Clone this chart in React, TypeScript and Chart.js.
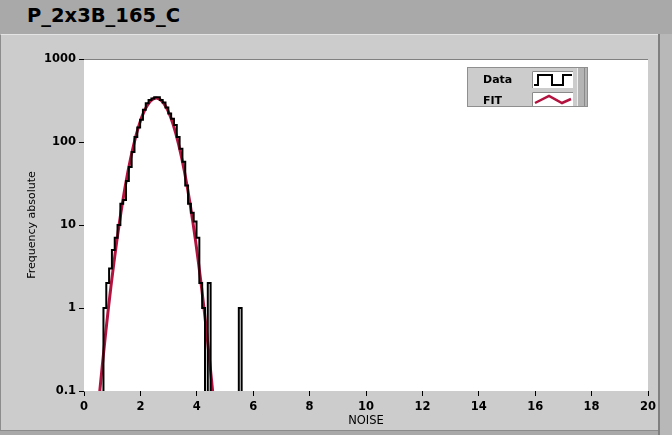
import React, { useEffect, useRef } from 'react';
import { Chart, registerables } from 'chart.js';

Chart.register(...registerables);

const chartTitle = 'P_2x3B_165_C';
const xAxisTitle = 'NOISE';
const yAxisTitle = 'Frequency absolute';
const legendLabels = ['Data', 'FIT'];

const xMin = 0;
const xMax = 20;
const xStep = 2;
const yTickValues = [0.1, 1, 10, 100, 1000];
const yTickLabels = ['0.1', '1', '10', '100', '1000'];

// histogram: left edge of each bin and its count
const histBinStarts = [
  0.59, 0.69, 0.79, 0.89, 0.99, 1.09, 1.19, 1.29, 1.39, 1.49,
  1.59, 1.69, 1.79, 1.89, 1.99, 2.09, 2.19, 2.29, 2.39, 2.49,
  2.59, 2.69, 2.79, 2.89, 2.99, 3.09, 3.19, 3.29, 3.39, 3.49,
  3.59, 3.69, 3.79, 3.89, 3.99, 4.09, 4.19, 4.29, 4.39, 4.49,
  5.49, 5.59,
];
const histCounts = [
  0, 1, 2, 3, 5, 7, 10, 18, 20, 34,
  50, 76, 115, 150, 185, 245, 293, 320, 335, 345,
  345, 320, 300, 260, 220, 190, 160, 115, 83, 58,
  30, 18, 14, 11, 7, 2, 1, 0, 2, 0,
  1, 0,
];

// fitted curve
const fitX = [
  0.46, 0.56, 0.76, 0.96, 1.16, 1.36, 1.56, 1.76, 1.96, 2.16, 2.36,
  2.56, 2.76, 2.96, 3.16, 3.36, 3.56, 3.76, 3.96, 4.16, 4.36, 4.56, 4.66,
];
const fitY = [
  0.044, 0.1, 0.47, 1.87, 6.3, 18.2, 44.4, 92, 163, 245, 312,
  339, 312, 245, 163, 92, 44.4, 18.2, 6.3, 1.87, 0.47, 0.1, 0.044,
];

const FONT = "'DejaVu Sans', Verdana, sans-serif";
const FIT_COLOR = '#b3123f';
const ZERO_FLOOR = 0.001;

const framePlugin = {
  id: 'frameAndLegend',
  afterDraw(chart: any) {
    const ctx = chart.ctx as CanvasRenderingContext2D;
    const a = chart.chartArea;
    ctx.save();
    // plot frame top
    ctx.strokeStyle = '#808080';
    ctx.lineWidth = 1;
    ctx.beginPath();
    ctx.moveTo(a.left, a.top + 0.5);
    ctx.lineTo(a.right, a.top + 0.5);
    ctx.stroke();

    // legend
    const lx = 467, ly = 67, lw = 121, lh = 40;
    ctx.fillStyle = '#cccccc';
    ctx.fillRect(lx, ly, lw, lh);
    ctx.fillStyle = '#b4b4b4';
    ctx.fillRect(lx + lw - 11, ly, 11, lh);
    ctx.strokeStyle = '#eeeeee';
    ctx.beginPath();
    ctx.moveTo(lx + lw - 10.5, ly);
    ctx.lineTo(lx + lw - 10.5, ly + lh);
    ctx.stroke();
    ctx.strokeStyle = '#8a8a8a';
    ctx.beginPath();
    ctx.moveTo(lx + lw - 3.5, ly);
    ctx.lineTo(lx + lw - 3.5, ly + lh);
    ctx.stroke();
    ctx.strokeStyle = '#8f8f8f';
    ctx.strokeRect(lx + 0.5, ly + 0.5, lw - 1, lh - 1);

    // swatches
    const sx = 532, sw = 41;
    const rows = [
      { y: 71, h: 17 },
      { y: 92, h: 14 },
    ];
    rows.forEach((r) => {
      ctx.fillStyle = '#ffffff';
      ctx.fillRect(sx, r.y, sw, r.h);
      ctx.strokeStyle = '#8a8a8a';
      ctx.beginPath();
      ctx.moveTo(sx + 0.5, r.y + r.h);
      ctx.lineTo(sx + 0.5, r.y + 0.5);
      ctx.lineTo(sx + sw, r.y + 0.5);
      ctx.stroke();
    });

    ctx.fillStyle = '#000000';
    ctx.font = `bold 11px ${FONT}`;
    ctx.textBaseline = 'middle';
    ctx.textAlign = 'left';
    ctx.fillText(legendLabels[0], 483, 80);
    ctx.fillText(legendLabels[1], 483, 101);

    // data icon (step)
    ctx.strokeStyle = '#000000';
    ctx.lineWidth = 2;
    ctx.lineJoin = 'miter';
    ctx.beginPath();
    ctx.moveTo(534, 85);
    ctx.lineTo(538, 85);
    ctx.lineTo(538, 75);
    ctx.lineTo(552, 75);
    ctx.lineTo(552, 85);
    ctx.lineTo(563, 85);
    ctx.lineTo(563, 75);
    ctx.lineTo(572, 75);
    ctx.stroke();

    // fit icon (zigzag)
    ctx.strokeStyle = FIT_COLOR;
    ctx.lineWidth = 2.5;
    ctx.beginPath();
    ctx.moveTo(535, 103);
    ctx.lineTo(549, 96);
    ctx.lineTo(562, 103);
    ctx.lineTo(571, 99);
    ctx.stroke();
    ctx.restore();
  },
};

export default function App() {
  const canvasRef = useRef<HTMLCanvasElement | null>(null);

  useEffect(() => {
    if (!canvasRef.current) return;
    const histData = histBinStarts.map((x, i) => ({
      x,
      y: histCounts[i] > 0 ? histCounts[i] : ZERO_FLOOR,
    }));
    const fitData = fitX.map((x, i) => ({ x, y: fitY[i] }));

    const chart = new Chart(canvasRef.current, {
      type: 'line',
      data: {
        datasets: [
          {
            label: legendLabels[0],
            data: histData,
            borderColor: '#000000',
            borderWidth: 2,
            stepped: 'before',
            pointRadius: 0,
            fill: false,
          },
          {
            label: legendLabels[1],
            data: fitData,
            borderColor: FIT_COLOR,
            borderWidth: 3,
            tension: 0.4,
            pointRadius: 0,
            fill: false,
          },
        ],
      },
      options: {
        animation: false,
        responsive: false,
        events: [],
        layout: { padding: { top: 59, right: 24, left: 0, bottom: 0 } },
        plugins: {
          legend: { display: false },
          tooltip: { enabled: false },
          title: { display: false },
        },
        scales: {
          x: {
            type: 'linear',
            min: xMin,
            max: xMax,
            afterFit: (s: any) => {
              s.height = 44;
            },
            ticks: {
              stepSize: xStep,
              color: '#000000',
              padding: 4,
              maxRotation: 0,
              font: { family: FONT, size: 11.5, weight: 'bold' },
            },
            grid: {
              drawOnChartArea: false,
              drawTicks: true,
              tickLength: 5,
              color: '#000000',
            },
            border: { display: false },
            title: {
              display: true,
              text: xAxisTitle,
              color: '#000000',
              font: { family: FONT, size: 11.5 },
              padding: { top: 0, bottom: 7 },
            },
          },
          y: {
            type: 'logarithmic',
            min: yTickValues[0],
            max: yTickValues[yTickValues.length - 1],
            afterFit: (s: any) => {
              s.width = 84;
            },
            afterBuildTicks: (s: any) => {
              s.ticks = yTickValues.map((v) => ({ value: v }));
            },
            ticks: {
              color: '#000000',
              padding: 3,
              font: { family: FONT, size: 11.5, weight: 'bold' },
              callback: (v: any) => {
                const i = yTickValues.indexOf(Number(v));
                return i >= 0 ? yTickLabels[i] : '';
              },
            },
            grid: {
              drawOnChartArea: false,
              drawTicks: true,
              tickLength: 5,
              color: '#000000',
            },
            border: { display: true, color: '#808080', width: 1 },
            title: {
              display: true,
              text: yAxisTitle,
              color: '#000000',
              font: { family: FONT, size: 11 },
              padding: { top: 26, bottom: 0 },
            },
          },
        },
      },
      plugins: [
        {
          id: 'whiteArea',
          beforeDatasetsDraw(c: any) {
            const a = c.chartArea;
            c.ctx.save();
            c.ctx.fillStyle = '#ffffff';
            c.ctx.fillRect(a.left, a.top, a.right - a.left, a.bottom - a.top);
            c.ctx.restore();
          },
        },
        framePlugin,
      ],
    });
    return () => chart.destroy();
  }, []);

  return (
    <div
      style={{
        position: 'absolute',
        left: 0,
        top: 0,
        width: 672,
        height: 435,
        background: '#a9a9a9',
        overflow: 'hidden',
        fontFamily: FONT,
      }}
    >
      <div
        style={{
          position: 'absolute',
          left: 27,
          top: 4,
          fontSize: 19.5,
          fontWeight: 'bold',
          lineHeight: '24px',
          color: '#000000',
          whiteSpace: 'nowrap',
        }}
      >
        {chartTitle}
      </div>
      <div
        style={{
          position: 'absolute',
          left: 0,
          top: 34,
          width: 657,
          height: 395,
          background: '#cccccc',
          borderLeft: '1px solid #8c8c8c',
          borderTop: '1px solid #e4e4e4',
          borderBottom: '1px solid #8c8c8c',
        }}
      />
      <div
        style={{
          position: 'absolute',
          left: 658,
          top: 34,
          width: 12,
          height: 401,
          background: '#b8b8b8',
          borderLeft: '2px solid #808080',
        }}
      />
      <canvas
        ref={canvasRef}
        width={672}
        height={435}
        style={{ position: 'absolute', left: 0, top: 0, width: 672, height: 435 }}
      />
    </div>
  );
}
